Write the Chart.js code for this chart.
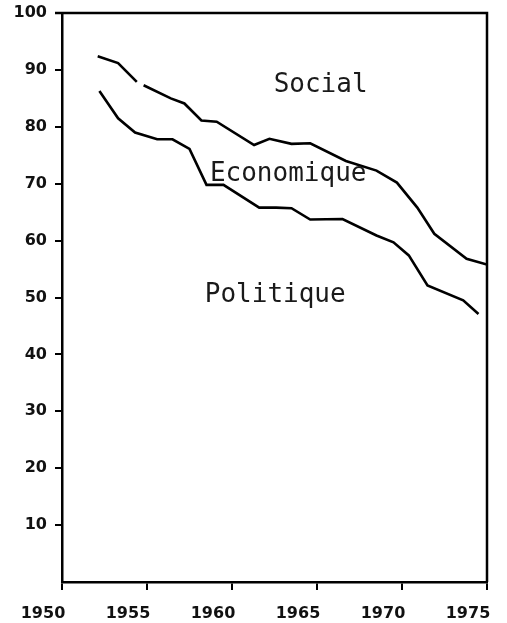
<!DOCTYPE html>
<html>
<head>
<meta charset="utf-8">
<script src="https://cdn.jsdelivr.net/npm/chart.js@4/dist/chart.umd.min.js"></script>
<style>
  body { margin: 0; background: #fff; }
  #wrap { width: 507px; height: 623px; position: relative; }
</style>
</head>
<body>
<div id="wrap"><canvas id="chart"></canvas></div>
<script>
// values
const upperYears = [1952.1, 1953.3, 1954.4, 1954.6, 1954.8, 1956.4, 1957.2, 1958.2, 1959.1, 1961.3, 1962.2, 1963.5, 1964.6, 1966.7, 1968.5, 1969.7, 1970.9, 1971.9, 1973.8, 1975.0];
const upperValues = [92.4, 91.2, 87.9, null, 87.3, 85.0, 84.1, 81.1, 80.9, 76.8, 77.9, 77.0, 77.1, 74.0, 72.3, 70.2, 65.8, 61.2, 56.8, 55.8];
const lowerYears = [1952.2, 1953.3, 1954.3, 1955.6, 1956.5, 1957.5, 1958.5, 1959.5, 1961.6, 1962.6, 1963.5, 1964.6, 1966.5, 1968.5, 1969.5, 1970.4, 1971.5, 1973.6, 1974.5];
const lowerValues = [86.3, 81.5, 79.0, 77.8, 77.8, 76.1, 69.8, 69.8, 65.8, 65.8, 65.7, 63.7, 63.8, 60.9, 59.7, 57.4, 52.1, 49.5, 47.1];
const xTicks = [1950, 1955, 1960, 1965, 1970, 1975];
const yTicks = [10, 20, 30, 40, 50, 60, 70, 80, 90, 100];
const regionNames = ['Social', 'Economique', 'Politique'];

const toPoints = (xs, ys) => xs.map((x, i) => ({ x: x, y: ys[i] }));

// frame round the plot and the region names
const framePlugin = {
  id: 'frame',
  afterDraw(chart, args, opts) {
    const { ctx, chartArea: a, scales } = chart;
    ctx.save();
    ctx.strokeStyle = '#000';
    ctx.lineWidth = 2.5;
    ctx.beginPath();
    ctx.moveTo(a.left, a.top);
    ctx.lineTo(a.right, a.top);
    ctx.lineTo(a.right, a.bottom);
    ctx.stroke();
    // little tick at 100 pointing out
    ctx.beginPath();
    ctx.moveTo(a.left - 7, a.top);
    ctx.lineTo(a.left, a.top);
    ctx.stroke();

    ctx.fillStyle = '#1a1a1a';
    ctx.font = '26px "DejaVu Sans Mono"';
    ctx.textAlign = 'left';
    ctx.textBaseline = 'alphabetic';
    regionNames.forEach((name, i) => {
      const p = opts.anchors[i];
      ctx.fillText(name, scales.x.getPixelForValue(p[0]), scales.y.getPixelForValue(p[1]));
    });
    ctx.restore();
  }
};

new Chart(document.getElementById('chart'), {
  type: 'line',
  data: {
    datasets: [
      { data: toPoints(upperYears, upperValues) },
      { data: toPoints(lowerYears, lowerValues) }
    ]
  },
  options: {
    responsive: true,
    maintainAspectRatio: false,
    animation: false,
    spanGaps: false,
    layout: { padding: { top: 13, right: 20, left: 0, bottom: 0 } },
    elements: {
      line: { borderColor: '#000', borderWidth: 2.6, tension: 0 },
      point: { radius: 0 }
    },
    plugins: {
      legend: { display: false },
      tooltip: { enabled: false },
      frame: { anchors: [[1962.45, 86.2], [1958.7, 70.5], [1958.4, 49.2]] }
    },
    scales: {
      x: {
        type: 'linear',
        min: 1950,
        max: 1975,
        afterBuildTicks: s => { s.ticks = xTicks.map(v => ({ value: v })); },
        afterFit: s => { s.height = 41; s.paddingLeft = 0; s.paddingRight = 0; },
        grid: { drawOnChartArea: false, drawTicks: true, tickLength: 8, color: '#000', lineWidth: 2 },
        border: { display: true, color: '#000', width: 2.5 },
        ticks: {
          color: '#111',
          padding: 14,
          labelOffset: -19,
          maxRotation: 0,
          font: { family: 'DejaVu Sans', size: 16, weight: 'bold' },
          callback: v => String(v)
        }
      },
      y: {
        min: 0,
        max: 100,
        afterBuildTicks: s => { s.ticks = yTicks.map(v => ({ value: v })); },
        afterFit: s => { s.width = 62; s.paddingTop = 0; s.paddingBottom = 0; },
        grid: { drawOnChartArea: false, drawTicks: true, tickLength: 7, color: '#000', lineWidth: 2 },
        border: { display: true, color: '#000', width: 2.5 },
        ticks: {
          color: '#111',
          padding: 8,
          font: { family: 'DejaVu Sans', size: 16, weight: 'bold' }
        }
      }
    }
  },
  plugins: [framePlugin]
});
</script>
</body>
</html>
